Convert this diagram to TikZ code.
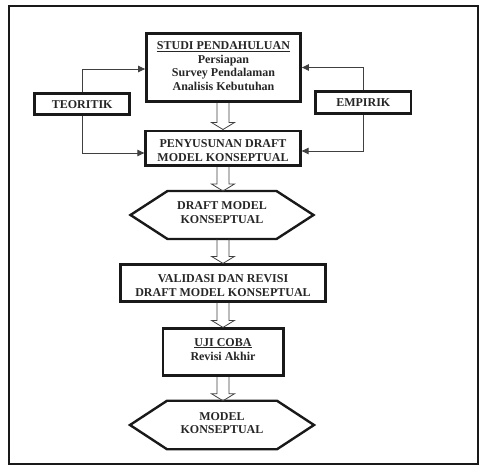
\documentclass[tikz,border=0pt]{standalone}
\usepackage{fontspec}
\setmainfont{Liberation Serif}
\usetikzlibrary{calc,arrows.meta}
\begin{document}
\begin{tikzpicture}[x=1pt,y=-1pt,
 frame/.style={draw=black!90, line width=2pt, inner sep=0pt, outer sep=0pt},
 box/.style={draw=black!90, line width=2.8pt, inner sep=0pt, font=\bfseries\fontsize{12}{13.8}\selectfont, text=black!85},
 hexbox/.style={inner sep=0pt, outer sep=0pt},
 hexline/.style={draw=black!90, line width=2.4pt, line join=miter},
 txt/.style={font=\bfseries\fontsize{12}{13.8}\selectfont, text=black!85, inner sep=0pt, anchor=base},
 conn/.style={draw=black!75, line width=0.9pt, -{Triangle[length=7pt,width=6.5pt]}},
 hollow/.style={draw=black!75, line width=0.8pt, line join=miter}]
\useasboundingbox (0,0) rectangle (482,466);
\node[frame, minimum width=469pt, minimum height=457.5pt] (frm) at (243.5,234.75) {};

% boxes
\node[box, minimum width=154pt, minimum height=68pt] (studi) at (223.5,67.5) {};
\node[box, minimum width=94.7pt, minimum height=20.7pt] (teor) at (82.2,104.2) {TEORITIK};
\node[box, minimum width=95.5pt, minimum height=22pt] (emp) at (363.3,102.5) {EMPIRIK};
\node[box, minimum width=154.5pt, minimum height=34.2pt] (peny) at (223,148) {};
\node[box, minimum width=204.4pt, minimum height=36.4pt] (val) at (223,283) {};
\node[box, minimum width=120.5pt, minimum height=47pt] (uji) at (223.2,352.3) {};
\node[hexbox, minimum width=183pt, minimum height=48pt] (h1) at (222,215) {};
\node[hexbox, minimum width=184pt, minimum height=48.5pt] (h2) at (222,425) {};

\foreach \h in {h1,h2}{
 \draw[hexline] (\h.west) -- ([xshift=37pt]\h.north west) -- ([xshift=-37pt]\h.north east) -- (\h.east) -- ([xshift=-37pt]\h.south east) -- ([xshift=37pt]\h.south west) -- cycle;
}

% texts
\node[txt] (s1) at (223.5,49.3) {\underline{STUDI PENDAHULUAN}};
\node[txt] (s2) at (223.5,63.3) {Persiapan};
\node[txt] (s3) at (223.5,76.5) {Survey Pendalaman};
\node[txt] (s4) at (223.5,90.5) {Analisis Kebutuhan};
\node[txt] (p1) at (223,147.7) {PENYUSUNAN DRAFT};
\node[txt] (p2) at (223,161.5) {MODEL KONSEPTUAL};
\node[txt] (d1) at (222,209.3) {DRAFT MODEL};
\node[txt] (d2) at (222,223.3) {KONSEPTUAL};
\node[txt] (v1) at (223,282.7) {VALIDASI DAN REVISI};
\node[txt] (v2) at (223,296.5) {DRAFT MODEL KONSEPTUAL};
\node[txt] (u1) at (223,346) {\underline{UJI COBA}};
\node[txt] (u2) at (223,360) {Revisi Akhir};
\node[txt] (m1) at (222,420) {MODEL};
\node[txt] (m2) at (222,433.3) {KONSEPTUAL};

% side connectors
\draw[conn] (teor.north) |- ([yshift=-1.5pt]studi.west);
\draw[conn] (emp.north) |- (studi.east);
\draw[conn] (teor.south) |- ([yshift=-5pt]peny.west);
\draw[conn] (emp.south) |- ([yshift=-3pt]peny.east);

% hollow block arrows
\def\arrx{223pt}
\newcommand\blockarrow[2]{%
 \draw[hollow] let \p1=(#1.south), \p2=(#2.north) in
 (\arrx-6pt,\y1) -- (\arrx-6pt,\y2+7pt) -- (\arrx-11.5pt,\y2+7pt) -- (\arrx,\y2)
 -- (\arrx+11.5pt,\y2+7pt) -- (\arrx+6pt,\y2+7pt) -- (\arrx+6pt,\y1);}
\blockarrow{studi}{peny}
\blockarrow{peny}{h1}
\blockarrow{h1}{val}
\blockarrow{val}{uji}
\blockarrow{uji}{h2}
\end{tikzpicture}
\end{document}
